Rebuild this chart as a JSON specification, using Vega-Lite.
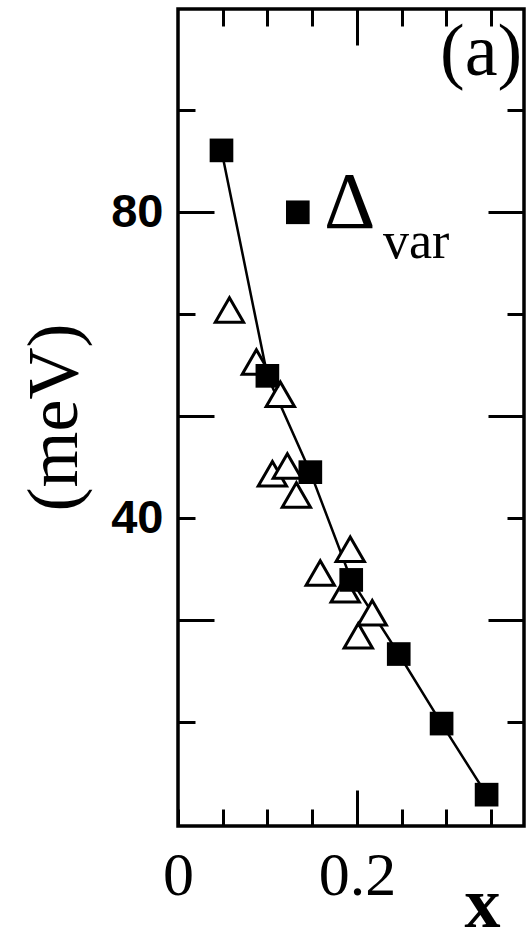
{
  "$schema": "https://vega.github.io/schema/vega-lite/v6.json",
  "width": 346,
  "height": 817,
  "autosize": "none",
  "padding": {"left": 178, "top": 9, "right": 3, "bottom": 102},
  "background": "white",
  "config": {
    "view": {"stroke": "black", "strokeWidth": 3.5},
    "axis": {"grid": false, "domain": false, "tickColor": "black", "tickWidth": 3, "labelColor": "black", "titleColor": "black"}
  },
  "data": {
    "values": [
      {"series": "sq", "x": 0.0486, "y": 88.1},
      {"series": "sq", "x": 0.0999, "y": 58.6},
      {"series": "sq", "x": 0.1479, "y": 46.0},
      {"series": "sq", "x": 0.1936, "y": 31.9},
      {"series": "sq", "x": 0.2467, "y": 22.2},
      {"series": "sq", "x": 0.2946, "y": 13.1},
      {"series": "sq", "x": 0.3449, "y": 3.8},
      {"series": "tri", "x": 0.0575, "y": 67.2},
      {"series": "tri", "x": 0.0876, "y": 60.4},
      {"series": "tri", "x": 0.1144, "y": 56.2},
      {"series": "tri", "x": 0.1055, "y": 45.8},
      {"series": "tri", "x": 0.1222, "y": 46.8},
      {"series": "tri", "x": 0.1323, "y": 43.0},
      {"series": "tri", "x": 0.1925, "y": 35.9},
      {"series": "tri", "x": 0.1590, "y": 32.8},
      {"series": "tri", "x": 0.1869, "y": 30.6},
      {"series": "tri", "x": 0.2015, "y": 24.6},
      {"series": "tri", "x": 0.2171, "y": 27.6},
      {"series": "legsq", "x": 0.1339, "y": 80.0},
      {"series": "panel", "x": 0.3387, "y": 100.8, "label": "(a)"},
      {"series": "delta", "x": 0.192, "y": 81.1, "label": "Δ"},
      {"series": "var", "x": 0.2662, "y": 74.0, "label": "var"}
    ]
  },
  "layer": [
    {
      "transform": [{"filter": "datum.series === 'sq'"}],
      "mark": {"type": "line", "color": "black", "strokeWidth": 2.5},
      "encoding": {
        "x": {
          "field": "x", "type": "quantitative",
          "scale": {"domain": [0, 0.3867], "nice": false, "zero": false},
          "axis": {
            "orient": "bottom",
            "values": [0, 0.05, 0.1, 0.15, 0.2, 0.25, 0.3, 0.35],
            "tickSize": {"condition": {"test": "abs(datum.value - 0.2) < 0.001", "value": -36}, "value": -17},
            "labelPadding": {"condition": {"test": "abs(datum.value - 0.2) < 0.001", "value": 55}, "value": 36},
            "labelExpr": "abs(datum.value) < 0.001 ? '0' : (abs(datum.value - 0.2) < 0.001 ? '0.2' : '')",
            "labelFont": "Liberation Serif", "labelFontSize": 62, "labelFlush": false,
            "labelOverlap": false,
            "title": "x", "titleFont": "Liberation Serif", "titleFontWeight": "bold", "titleFontSize": 72,
            "titleX": 304, "titleY": 78, "titleBaseline": "middle", "titleAlign": "center"
          }
        },
        "y": {
          "field": "y", "type": "quantitative",
          "scale": {"domain": [-0.3, 106.6], "nice": false, "zero": false},
          "axis": {
            "orient": "left",
            "values": [13.3333, 26.6667, 40, 53.3333, 66.6667, 80, 93.3333],
            "tickSize": {"condition": {"test": "abs(datum.value - 26.6667) < 0.01 || abs(datum.value - 53.3333) < 0.01 || abs(datum.value - 80) < 0.01", "value": -36}, "value": -17},
            "labelPadding": {"condition": {"test": "abs(datum.value - 26.6667) < 0.01 || abs(datum.value - 53.3333) < 0.01 || abs(datum.value - 80) < 0.01", "value": 51}, "value": 32},
            "labelExpr": "abs(datum.value - 40) < 0.01 ? '40' : (abs(datum.value - 80) < 0.01 ? '80' : '')",
            "labelFont": "Liberation Sans", "labelFontWeight": "bold", "labelFontSize": 47,
            "labelOverlap": false,
            "title": "(meV)", "titleFont": "Liberation Serif", "titleFontWeight": "normal", "titleFontSize": 72,
            "titleX": -124, "titleY": 408, "titleAngle": -90, "titleBaseline": "middle", "titleAlign": "center"
          }
        }
      }
    },
    {
      "transform": [{"filter": "datum.series === 'tri'"}],
      "mark": {"type": "point", "shape": "triangle-up", "filled": true, "fill": "white", "stroke": "black", "strokeWidth": 3, "size": 800, "opacity": 1},
      "encoding": {
        "x": {
          "field": "x", "type": "quantitative",
          "scale": {"domain": [0, 0.3867], "nice": false, "zero": false},
          "axis": {
            "orient": "top",
            "values": [0.05, 0.1, 0.15, 0.2, 0.25, 0.3, 0.35],
            "tickSize": {"condition": {"test": "abs(datum.value - 0.2) < 0.001", "value": -36}, "value": -17},
            "labels": false, "title": null
          }
        },
        "y": {
          "field": "y", "type": "quantitative",
          "scale": {"domain": [-0.3, 106.6], "nice": false, "zero": false},
          "axis": {
            "orient": "right",
            "values": [13.3333, 26.6667, 40, 53.3333, 66.6667, 80, 93.3333],
            "tickSize": {"condition": {"test": "abs(datum.value - 26.6667) < 0.01 || abs(datum.value - 53.3333) < 0.01 || abs(datum.value - 80) < 0.01", "value": -36}, "value": -17},
            "labels": false, "title": null
          }
        }
      }
    },
    {
      "transform": [{"filter": "datum.series === 'sq' || datum.series === 'legsq'"}],
      "mark": {"type": "point", "shape": "square", "filled": true, "color": "black", "size": 560, "opacity": 1},
      "encoding": {
        "x": {"field": "x", "type": "quantitative", "scale": {"domain": [0, 0.3867], "nice": false, "zero": false}, "axis": null},
        "y": {"field": "y", "type": "quantitative", "scale": {"domain": [-0.3, 106.6], "nice": false, "zero": false}, "axis": null}
      }
    },
    {
      "transform": [{"filter": "datum.series === 'panel'"}],
      "mark": {"type": "text", "font": "Liberation Serif", "fontSize": 74, "color": "black", "align": "center", "baseline": "middle"},
      "encoding": {
        "x": {"field": "x", "type": "quantitative", "scale": {"domain": [0, 0.3867], "nice": false, "zero": false}, "axis": null},
        "y": {"field": "y", "type": "quantitative", "scale": {"domain": [-0.3, 106.6], "nice": false, "zero": false}, "axis": null},
        "text": {"field": "label"}
      }
    },
    {
      "transform": [{"filter": "datum.series === 'delta'"}],
      "mark": {"type": "text", "font": "Liberation Serif", "fontSize": 80, "color": "black", "align": "center", "baseline": "middle"},
      "encoding": {
        "x": {"field": "x", "type": "quantitative", "scale": {"domain": [0, 0.3867], "nice": false, "zero": false}, "axis": null},
        "y": {"field": "y", "type": "quantitative", "scale": {"domain": [-0.3, 106.6], "nice": false, "zero": false}, "axis": null},
        "text": {"field": "label"}
      }
    },
    {
      "transform": [{"filter": "datum.series === 'var'"}],
      "mark": {"type": "text", "font": "Liberation Serif", "fontSize": 52, "color": "black", "align": "center", "baseline": "alphabetic"},
      "encoding": {
        "x": {"field": "x", "type": "quantitative", "scale": {"domain": [0, 0.3867], "nice": false, "zero": false}, "axis": null},
        "y": {"field": "y", "type": "quantitative", "scale": {"domain": [-0.3, 106.6], "nice": false, "zero": false}, "axis": null},
        "text": {"field": "label"}
      }
    }
  ],
  "resolve": {"axis": {"x": "independent", "y": "independent"}}
}
